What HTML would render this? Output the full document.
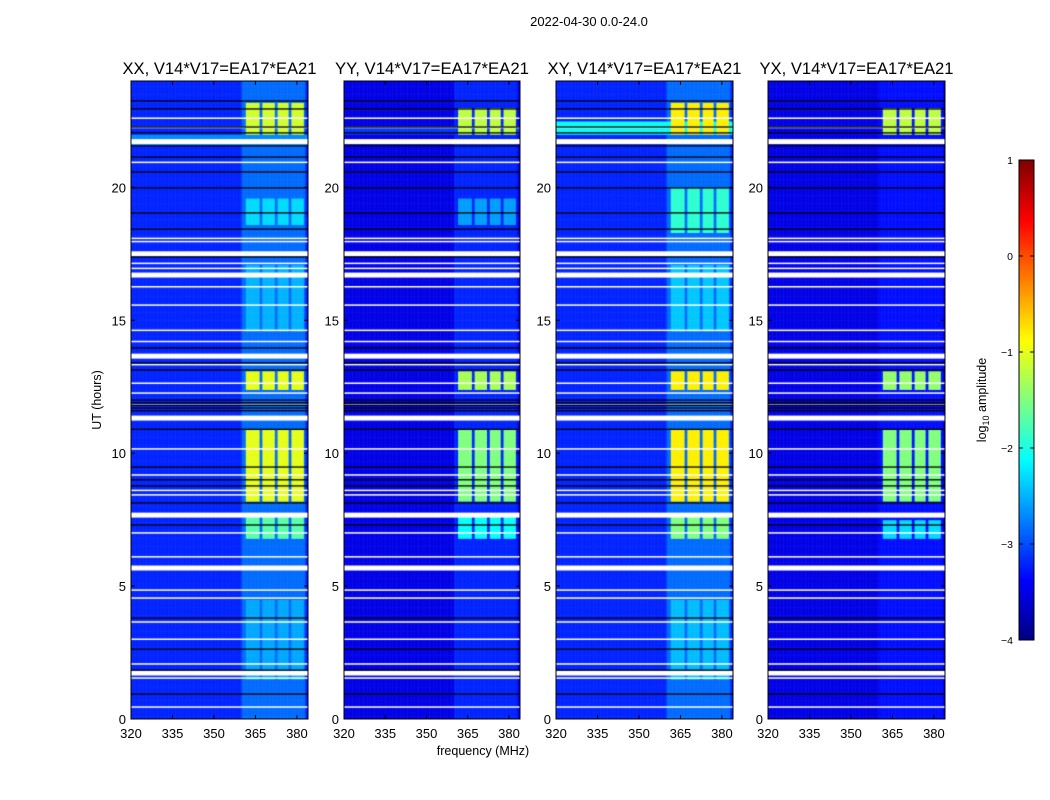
<!DOCTYPE html>
<html><head><meta charset="utf-8"><style>
body{margin:0;background:#fff;width:1050px;height:800px;overflow:hidden;position:relative;font-family:"Liberation Sans",sans-serif}
canvas{position:absolute}
svg{position:absolute;left:0;top:0}
</style></head><body>
<canvas id="c0" width="177" height="638" style="left:131px;top:81px"></canvas>
<canvas id="c1" width="176" height="638" style="left:344px;top:81px"></canvas>
<canvas id="c2" width="177" height="638" style="left:556px;top:81px"></canvas>
<canvas id="c3" width="177" height="638" style="left:768px;top:81px"></canvas>
<canvas id="cb" width="15" height="480" style="left:1019px;top:160px"></canvas>
<svg id="ov" width="1050" height="800"></svg>
<script>
const panelTitles=["XX, V14*V17=EA17*EA21","YY, V14*V17=EA17*EA21","XY, V14*V17=EA17*EA21","YX, V14*V17=EA17*EA21"];
const panelLefts=[131,344,556,768];
const panelBase=[-3.2,-3.5,-3.2,-3.5];
const bandBase=[-2.85,-3.2,-2.85,-3.3];
const subbands=[[361.5,366.3],[367.3,372],[373,377],[378,382.3]];
// activity blocks: [startHour,endHour,level] per panel
const blocksXX=[[22.0,23.2,-1.1],[12.3,13.0,-1.0],[8.1,10.8,-1.0],[6.7,7.6,-1.7],[18.5,19.6,-2.3],[14.5,17.0,-2.5],[1.5,4.5,-2.55]];
const blocksYY=[[22.0,23.0,-1.2],[12.3,13.0,-1.3],[8.1,10.8,-1.5],[6.7,7.6,-2.1],[18.5,19.6,-2.6]];
const blocksXY=[[22.0,23.2,-0.8],[12.3,13.0,-0.8],[8.1,10.8,-0.8],[6.7,7.6,-1.5],[18.2,20.0,-1.9],[14.5,17.0,-2.4],[1.5,4.5,-2.45]];
const blocksYX=[[22.0,23.0,-1.2],[12.3,13.0,-1.4],[8.1,10.8,-1.5],[6.7,7.4,-2.3]];
const panelBlocks=[blocksXX,blocksYY,blocksXY,blocksYX];
// broadband rows: [start,end,level] per panel
const broadXX=[[21.6,22.0,-2.7]];
const broadYY=[[22.0,22.3,-3.1]];
const broadXY=[[22.0,22.5,-2.1]];
const broadYX=[];
const panelBroad=[broadXX,broadYY,broadXY,broadYX];
const whiteThin=[22.6,22.25,20.94,18.08,17.96,17.14,16.95,16.26,15.57,14.62,14.2,13.33,12.63,12.26,11.81,10.16,9.18,8.6,8.43,7.0,6.1,4.85,4.55,3.65,3.0,2.07,1.54,0.45];
const whiteThick=[21.72,17.5,16.7,13.65,11.32,7.67,5.68,1.73];
const blackLines=[23.25,22.95,22.27,22.05,21.56,21.14,20.58,19.98,19.04,18.43,17.38,13.96,13.4,13.13,12.0,11.9,11.8,11.6,11.7,10.9,9.48,9.0,8.77,8.13,7.3,3.8,2.63,1.84,0.94];
const xTicks=[320,335,350,365,380];
const yTicks=[0,5,10,15,20];
const cbTicks=[1,0,-1,-2,-3,-4];

const F0=320,F1=384,T0=0,T1=24,PH=638,PT=81;
function jet(t){t=Math.max(0,Math.min(1,t));const c=v=>Math.round(255*Math.max(0,Math.min(1,v)));
 return `rgb(${c(1.5-Math.abs(4*t-3))},${c(1.5-Math.abs(4*t-2))},${c(1.5-Math.abs(4*t-1))})`;}
function cmap(v){return jet((v+4)/5);}
function xs(f,w){return (f-F0)/(F1-F0)*w;}
function ys(h){return (T1-h)/(T1-T0)*PH;}

for(let p=0;p<4;p++){
 const cv=document.getElementById('c'+p),ctx=cv.getContext('2d'),w=cv.width;
 const dt=0.1,df=0.5;
 for(let h=0;h<24;h+=dt){
  let rowBroad=null;
  for(const b of panelBroad[p]) if(h>=b[0]&&h<b[1]) rowBroad=b[2];
  let act=null;
  for(const b of panelBlocks[p]) if(h>=b[0]&&h<b[1]) act=b[2];
  for(let f=F0;f<F1;f+=df){
   let v=panelBase[p];
   if(rowBroad!==null) v=rowBroad;
   if(f>=360&&f<383) v=Math.max(v,bandBase[p]);
   let inSub=false;for(const s of subbands) if(f>=s[0]&&f<s[1]) inSub=true;
   if(inSub&&act!==null) v=Math.max(v,act);
   ctx.fillStyle=cmap(v);
   const x0=xs(f,w),x1=xs(f+df,w),y0=ys(h+dt),y1=ys(h);
   ctx.fillRect(x0,y0,x1-x0+0.5,y1-y0+0.5);
  }
 }
 ctx.fillStyle='#fff';
 for(const h of whiteThin) ctx.fillRect(0,ys(h)-0.75,w,1.5);
 for(const h of whiteThick) ctx.fillRect(0,ys(h)-2.5,w,5);
 ctx.fillStyle='#000';
 for(const h of blackLines) ctx.fillRect(0,ys(h)-0.6,w,1.3);
}
// colorbar
{const cv=document.getElementById('cb'),ctx=cv.getContext('2d');
 for(let i=0;i<480;i++){ctx.fillStyle=cmap(1-i/480*5);ctx.fillRect(0,i,15,1);}}

const svg=document.getElementById('ov');const NS='http://www.w3.org/2000/svg';
function el(tag,attrs,txt){const e=document.createElementNS(NS,tag);for(const k in attrs)e.setAttribute(k,attrs[k]);if(txt!==undefined)e.textContent=txt;svg.appendChild(e);return e;}
let e=el('text',{x:589,y:26,'font-size':13,'text-anchor':'middle'},'2022-04-30 0.0-24.0');

for(let p=0;p<4;p++){
 const L=panelLefts[p],W=(p==1?176:177);
 e=el('rect',{x:L,y:PT,width:W,height:PH,fill:'none',stroke:'#000','stroke-width':1});
 
 e=el('text',{x:L+W/2,y:74,'font-size':16.5,'text-anchor':'middle',textLength:194,lengthAdjust:'spacingAndGlyphs'},panelTitles[p]);
 
 for(const f of xTicks){const x=L+xs(f,W);
  el('line',{x1:x,x2:x,y1:PT,y2:PT+4,stroke:'#000'});el('line',{x1:x,x2:x,y1:PT+PH,y2:PT+PH-4,stroke:'#000'});
  e=el('text',{x:x,y:738,'font-size':13,'text-anchor':'middle'},String(f));
  }
 for(const h of yTicks){const y=PT+ys(h);
  el('line',{x1:L,x2:L+4,y1:y,y2:y,stroke:'#000'});el('line',{x1:L+W,x2:L+W-4,y1:y,y2:y,stroke:'#000'});
  e=el('text',{x:L-5,y:y+5,'font-size':13,'text-anchor':'end'},String(h));
  }
}
e=el('text',{x:483,y:755,'font-size':12.5,'text-anchor':'middle'},'frequency (MHz)');

e=el('text',{x:0,y:0,'font-size':12.5,'text-anchor':'middle',transform:'translate(101,400) rotate(-90)'},'UT (hours)');

e=el('rect',{x:1019,y:160,width:15,height:480,fill:'none',stroke:'#000'});

for(const v of cbTicks){const y=160+(1-v)/5*480;
 el('line',{x1:1019,x2:1023,y1:y,y2:y,stroke:'#000'});el('line',{x1:1034,x2:1030,y1:y,y2:y,stroke:'#000'});
 e=el('text',{x:1013,y:y+4,'font-size':10.5,'text-anchor':'end'},v<0?'\u2212'+(-v):String(v));
 }
e=el('text',{x:0,y:0,'font-size':12.5,'text-anchor':'middle',transform:'translate(986,400) rotate(-90)'});

e.innerHTML='log<tspan font-size="9" dy="3">10</tspan><tspan dy="-3"> amplitude</tspan>';
</script>
</body></html>
